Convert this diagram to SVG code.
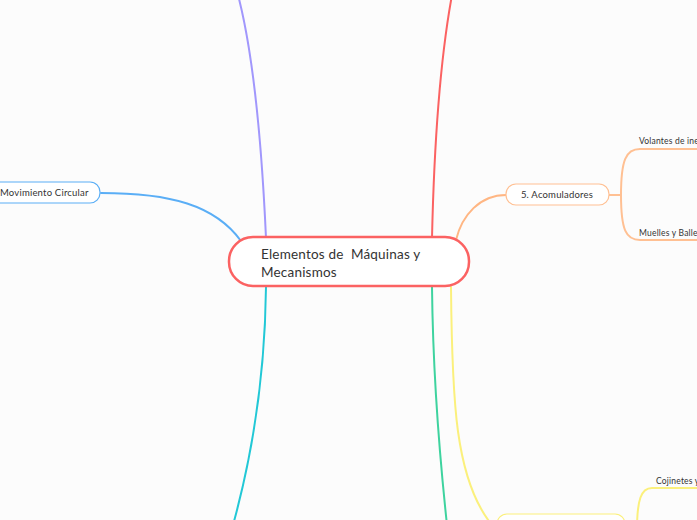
<svg xmlns="http://www.w3.org/2000/svg" width="697" height="520" viewBox="0 0 697 520">
<style>
.c{fill:none;stroke-width:2;stroke-linecap:round}
.t{font-family:Lato,"Open Sans",sans-serif;fill:#333;letter-spacing:0.2px}
.sub{fill:#ffffff;stroke-width:1.2}
</style>
<rect width="697" height="520" fill="#fcfcfc"/>
<g id="connectors">
<path class="c" stroke="#a197fc" d="M 266 238 C 262 150, 255 60, 238 -5"/>
<path class="c" stroke="#fb6262" d="M 432 238 C 434 150, 440 60, 452 -5"/>
<path class="c" stroke="#5aaef6" d="M 241 241 C 215 205, 170 193, 101 193"/>
<path class="c" stroke="#ffb683" d="M 456 240 C 462 215, 480 195, 506 195"/>
<path class="c" stroke="#ffc093" stroke-width="1.2" d="M 609 195 H 621 M 697 149 H 640 C 626 149, 621 160, 621 195 C 621 230, 626 240, 640 240 H 697"/>
<path class="c" stroke="#22c8d6" d="M 266 287 C 265 380, 251 460, 233 525"/>
<path class="c" stroke="#3ed39f" d="M 432 287 C 433 380, 440 460, 447 525"/>
<path class="c" stroke="#fbf07c" stroke-width="1.5" d="M 451 287 C 452 400, 455 480, 492 525"/>
<path class="c" stroke="#fbf07c" stroke-width="1.2" d="M 625 530 H 637 M 697 488 H 652 C 641 488, 637 500, 637 530"/>
</g>
<g id="central">
<rect x="229" y="237" width="240" height="49" rx="24" fill="#ffffff" stroke="#fb6262" stroke-width="2.5"/>
<text class="t" x="261" y="259" font-size="13.5" letter-spacing="0.35" xml:space="preserve">Elementos de  Máquinas y</text>
<text class="t" x="261" y="277" font-size="13.5" letter-spacing="0.35">Mecanismos</text>
</g>
<g id="movimiento">
<rect class="sub" x="-12" y="182" width="112" height="21" rx="10" stroke="#5aaef6"/>
<text class="t" x="0" y="196" font-size="9.5">Movimiento Circular</text>
</g>
<g id="acomuladores">
<rect class="sub" x="506" y="184" width="103" height="21" rx="10" stroke="#ffc093"/>
<text class="t" x="557" y="198" font-size="9.5" text-anchor="middle">5. Acomuladores</text>
</g>
<g id="volantes">
<text class="t" x="639" y="144" font-size="8.5">Volantes de inercia</text>
</g>
<g id="muelles">
<text class="t" x="639" y="236" font-size="8.5">Muelles y Ballestas</text>
</g>
<g id="yellow-node">
<rect class="sub" x="497" y="514" width="128" height="30" rx="10" stroke="#fbf07c"/>
</g>
<g id="cojinetes">
<text class="t" x="656" y="484" font-size="8.5">Cojinetes y Rodamientos</text>
</g>
</svg>
